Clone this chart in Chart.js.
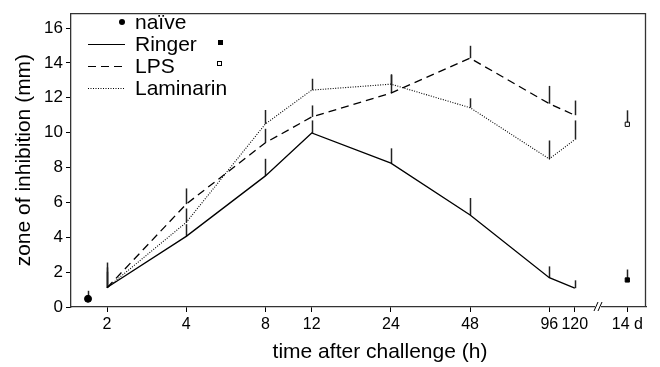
<!DOCTYPE html>
<html>
<head>
<meta charset="utf-8">
<script src="https://cdn.jsdelivr.net/npm/chart.js@4/dist/chart.umd.min.js"></script>
<style>
  html, body { margin: 0; padding: 0; background: #fff; }
  #wrap { width: 660px; height: 367px; }
</style>
</head>
<body>
<div id="wrap"><canvas id="zoneChart"></canvas></div>
<script>
// horas tras el desafío (eje log2)
const hours = [2, 4, 8, 12, 24, 48, 96, 120];
const ringer = [1.12, 4.05, 7.52, 9.98, 8.25, 5.28, 1.68, 1.08];
const ringerErr = [0.9, 0.7, 0.98, 0.72, 0.85, 0.97, 0.65, 0.45];
const lps = [1.1, 5.9, 9.42, 10.9, 12.27, 14.27, 11.66, 11.0];
const lpsErr = [1.45, 0.9, 0.8, 0.66, 1.03, 0.71, 1.02, 0.84];
const laminarin = [1.1, 4.85, 10.5, 12.44, 12.78, 11.43, 8.49, 9.6];
const laminarinErr = [1.17, 0.8, 0.8, 0.65, 0.57, 0.54, 1.06, 1.1];

// puntos sueltos: naïve (antes de 2 h) y 14 d (tras el corte)
const naive = 0.47, naiveErr = 0.46;
const ringer14d = 1.55, ringer14dErr = 0.6;
const lps14d = 10.48, lps14dErr = 0.8;

const naivePos = 0.76;   // posición en log2(h)
const dayPos = 7.57;     // posición de "14 d" después del corte
const breakPos = 7.2;

const tickPos = hours.map(h => Math.log2(h)).concat([dayPos]);
const tickLabels = hours.map(String).concat(['14 d']);
const yTicks = [0, 2, 4, 6, 8, 10, 12, 14, 16];

const FONT = "'Liberation Sans', Arial, sans-serif";

const toXY = (vals) => vals.map((v, i) => ({ x: Math.log2(hours[i]), y: v }));

const errorSets = [
    { pos: hours.map(h => Math.log2(h)), vals: ringer, errs: ringerErr },
    { pos: hours.map(h => Math.log2(h)), vals: lps, errs: lpsErr },
    { pos: hours.map(h => Math.log2(h)), vals: laminarin, errs: laminarinErr },
    { pos: [naivePos], vals: [naive], errs: [naiveErr] },
    { pos: [dayPos], vals: [ringer14d], errs: [ringer14dErr] },
    { pos: [dayPos], vals: [lps14d], errs: [lps14dErr] }
];

// barras de error (solo hacia arriba), marco, corte del eje y leyenda
const extras = {
    id: 'extras',
    beforeDatasetsDraw(chart) {
        const { ctx, scales: { x, y } } = chart;
        ctx.save();
        ctx.strokeStyle = '#222';
        ctx.lineWidth = 1.5;
        errorSets.forEach(s => {
            s.vals.forEach((v, i) => {
                const px = Math.round(x.getPixelForValue(s.pos[i])) + 0.5;
                ctx.beginPath();
                ctx.moveTo(px, y.getPixelForValue(v));
                ctx.lineTo(px, y.getPixelForValue(v + s.errs[i]));
                ctx.stroke();
            });
        });
        ctx.restore();
    },
    afterDraw(chart) {
        const { ctx, chartArea: a, scales: { x } } = chart;
        ctx.save();
        ctx.strokeStyle = '#333';
        ctx.lineWidth = 1.3;
        ctx.beginPath();
        ctx.moveTo(a.left, a.top + 0.5);
        ctx.lineTo(a.right - 0.5, a.top + 0.5);
        ctx.lineTo(a.right - 0.5, a.bottom);
        ctx.stroke();

        // corte //
        const bx = x.getPixelForValue(breakPos);
        ctx.fillStyle = '#fff';
        ctx.fillRect(bx - 3, a.bottom - 1, 6, 3);
        ctx.strokeStyle = '#000';
        ctx.lineWidth = 1;
        [-2, 2].forEach(d => {
            ctx.beginPath();
            ctx.moveTo(bx + d - 2, a.bottom + 4);
            ctx.lineTo(bx + d + 2, a.bottom - 5);
            ctx.stroke();
        });

        // título del eje x (algo desplazado a la derecha, como en el original)
        ctx.fillStyle = '#000';
        ctx.font = '21px ' + FONT;
        ctx.textAlign = 'center';
        ctx.textBaseline = 'middle';
        ctx.fillText('time after challenge (h)', 380, 352);

        // leyenda
        ctx.textAlign = 'left';
        const rows = ['naïve', 'Ringer', 'LPS', 'Laminarin'];
        const ys = [22, 44, 66, 88];
        rows.forEach((r, i) => ctx.fillText(r, 135, ys[i] + 1));

        ctx.beginPath();
        ctx.arc(122, 22, 3, 0, Math.PI * 2);
        ctx.fill();

        ctx.lineWidth = 1.2;
        [[], [8, 5], [1, 1.5]].forEach((dash, i) => {
            ctx.setLineDash(dash);
            ctx.beginPath();
            ctx.moveTo(88, ys[i + 1] + 0.5);
            ctx.lineTo(125, ys[i + 1] + 0.5);
            ctx.stroke();
        });
        ctx.setLineDash([]);

        ctx.fillRect(218, 40, 5, 5);
        ctx.lineWidth = 1;
        ctx.strokeRect(217.5, 61.5, 4, 4);
        ctx.restore();
    }
};

const lineStyle = {
    showLine: true,
    borderColor: '#000',
    borderWidth: 1.3,
    pointRadius: 0,
    fill: false,
    tension: 0
};

const data = {
    datasets: [
        { label: 'Ringer', data: toXY(ringer), ...lineStyle },
        { label: 'LPS', data: toXY(lps), ...lineStyle, borderDash: [8, 5] },
        { label: 'Laminarin', data: toXY(laminarin), ...lineStyle, borderWidth: 1.1, borderDash: [1, 1.5] },
        { label: 'naïve', data: [{ x: naivePos, y: naive }], showLine: false,
          pointStyle: 'circle', pointRadius: 3.5, backgroundColor: '#000', borderColor: '#000' },
        { label: 'Ringer 14 d', data: [{ x: dayPos, y: ringer14d }], showLine: false,
          pointStyle: 'rect', pointRadius: 3, backgroundColor: '#000', borderColor: '#000' },
        { label: 'LPS 14 d', data: [{ x: dayPos, y: lps14d }], showLine: false,
          pointStyle: 'rect', pointRadius: 3, backgroundColor: '#fff', borderColor: '#000', borderWidth: 1 }
    ]
};

const config = {
    type: 'scatter',
    data: data,
    plugins: [extras],
    options: {
        responsive: false,
        animation: false,
        layout: { padding: { top: 5, right: 14, left: 0, bottom: 0 } },
        plugins: {
            legend: { display: false },
            tooltip: { enabled: false }
        },
        scales: {
            x: {
                type: 'linear',
                min: 0.545,
                max: 7.806,
                afterBuildTicks: axis => { axis.ticks = tickPos.map(v => ({ value: v })); },
                afterFit: axis => { axis.height = 60; },
                ticks: {
                    autoSkip: false,
                    maxRotation: 0,
                    padding: 3,
                    color: '#000',
                    font: { family: FONT, size: 16 },
                    callback: (value, index) => tickLabels[index]
                },
                grid: { drawOnChartArea: false, drawTicks: true, tickLength: 5, color: '#000' },
                border: { display: true, color: '#333', width: 1.3 },
                title: { display: false }
            },
            y: {
                min: 0,
                max: 16.85,
                afterBuildTicks: axis => { axis.ticks = yTicks.map(v => ({ value: v })); },
                afterFit: axis => { axis.width = 71; },
                ticks: {
                    padding: 3,
                    color: '#000',
                    font: { family: FONT, size: 17 }
                },
                grid: { drawOnChartArea: false, drawTicks: true, tickLength: 5, color: '#000' },
                border: { display: true, color: '#333', width: 1.3 },
                title: {
                    display: true,
                    text: 'zone of inhibition (mm)',
                    color: '#000',
                    font: { family: FONT, size: 21 },
                    padding: { top: 12, bottom: 0 }
                }
            }
        }
    }
};

window.onload = function() {
    const canvas = document.getElementById('zoneChart');
    canvas.width = 660;
    canvas.height = 367;
    new Chart(canvas.getContext('2d'), config);
};
</script>
</body>
</html>
